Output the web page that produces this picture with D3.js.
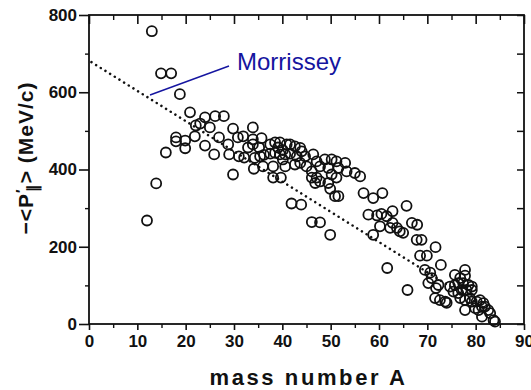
<!DOCTYPE html>
<html>
<head>
<meta charset="utf-8">
<script src="https://cdn.jsdelivr.net/npm/d3@7"></script>
<style>
  body { margin: 0; background: #fff; }
  svg { display: block; }
  text { font-family: "Liberation Sans", Arial, sans-serif; }
</style>
</head>
<body>
<svg id="chart" width="531" height="390"></svg>
<script>
// values
const massNumber = [
  12.0, 13.0, 13.9, 14.9, 15.9, 17.0, 18.0, 18.0, 18.8, 19.9, 19.9, 20.9, 21.9, 22.1,
  23.0, 24.0, 24.0, 25.0, 25.9, 26.1, 26.9, 27.9, 28.8, 29.0, 29.8, 29.8, 30.8, 31.0,
  31.9, 32.1, 32.9, 33.9, 33.9, 33.9, 34.1, 34.3, 35.2, 35.4, 35.7, 36.2, 36.0, 37.5,
  37.5, 38.5, 38.5, 38.1, 38.1, 39.5, 39.5, 39.1, 39.7, 40.1, 40.1, 40.6, 40.6, 40.9,
  41.6, 41.6, 41.9, 42.6, 42.6, 43.0, 43.7, 43.7, 43.9, 44.0, 44.7, 45.0, 46.1, 47.8,
  46.1, 46.1, 46.4, 46.8, 47.1, 47.1, 47.8, 47.8, 48.8, 49.5, 49.5, 49.9, 49.9, 50.2,
  50.2, 50.9, 51.2, 51.2, 51.6, 51.6, 53.0, 53.3, 55.0, 56.1, 56.8, 57.8, 58.8, 58.8,
  59.6, 60.5, 60.7, 60.2, 61.6, 61.7, 62.3, 62.8, 62.8, 63.7, 64.3, 65.0, 65.7, 65.9,
  66.8, 67.9, 67.8, 68.8, 68.5, 69.9, 69.5, 70.6, 70.9, 70.2, 71.7, 71.8, 72.3, 72.8,
  71.6, 72.6, 73.7, 74.0, 75.7, 76.8, 77.8, 77.8, 74.7, 75.7, 76.4, 77.4, 78.5, 79.2,
  75.4, 76.4, 77.1, 78.1, 79.2, 76.8, 77.8, 78.8, 77.8, 79.2, 80.2, 80.9, 81.6, 79.9,
  80.6, 81.3, 81.9, 82.6, 83.0, 81.3, 83.7, 84.0
]
const momentum = [
  268, 758, 364, 649, 444, 649, 483, 473, 595, 475, 455, 548, 486, 514,
  519, 535, 462, 509, 439, 538, 483, 538, 465, 439, 506, 387, 483, 434,
  486, 431, 457, 509, 478, 465, 402, 430, 457, 434, 481, 438, 408, 465,
  441, 470, 443, 408, 379, 470, 439, 457, 379, 450, 426, 439, 408, 465,
  441, 465, 312, 413, 460, 434, 417, 456, 309, 447, 434, 408, 264, 263,
  395, 379, 439, 365, 421, 379, 408, 369, 426, 404, 365, 350, 231, 426,
  387, 331, 421, 379, 404, 331, 417, 395, 391, 382, 339, 283, 326, 231,
  281, 285, 339, 253, 279, 145, 249, 292, 262, 249, 240, 236, 306, 88,
  262, 257, 218, 218, 177, 177, 140, 133, 119, 106, 199, 93, 101, 153,
  67, 62, 58, 55, 127, 119, 125, 140, 97, 101, 106, 106, 101, 97,
  84, 80, 88, 88, 88, 67, 62, 67, 36, 58, 58, 62, 54, 41,
  36, 45, 45, 36, 28, 19, 10, 6
]
// Morrissey systematics, dotted line end points
const morrisseyA = [0.5, 82]
const morrisseyP = [678, 40]

const xMajor = [0, 10, 20, 30, 40, 50, 60, 70, 80, 90]
const xMinor = [5, 15, 25, 35, 45, 55, 65, 75, 85]
const yMajor = [0, 200, 400, 600, 800]
const yMinor = [100, 300, 500, 700]

const svg = d3.select('#chart')
const frame = { left: 89, right: 524, top: 15, bottom: 324 }

const x = d3.scaleLinear().domain([0, 90]).range([frame.left, frame.right])
const y = d3.scaleLinear().domain([0, 800]).range([frame.bottom, frame.top])

const tickFont = g => g.selectAll('text')
  .attr('font-size', 17)
  .attr('font-weight', 'bold')
  .attr('fill', '#111')

const noDomain = g => g.select('.domain').remove()
const tickStroke = w => g => g.selectAll('line').attr('stroke', '#111').attr('stroke-width', w)

// bottom axis: ticks point out
svg.append('g')
  .attr('transform', `translate(0,${frame.bottom})`)
  .call(d3.axisBottom(x).tickValues(xMajor).tickSize(6).tickPadding(5).tickFormat(d3.format('d')))
  .call(noDomain).call(tickFont).call(tickStroke(1.6))
svg.append('g')
  .attr('transform', `translate(0,${frame.bottom})`)
  .call(d3.axisBottom(x).tickValues(xMinor).tickSize(4).tickFormat(''))
  .call(noDomain).call(tickStroke(1.4))

// top axis: ticks point in
svg.append('g')
  .attr('transform', `translate(0,${frame.top})`)
  .call(d3.axisBottom(x).tickValues(xMajor).tickSize(9).tickFormat(''))
  .call(noDomain).call(tickStroke(1.6))
svg.append('g')
  .attr('transform', `translate(0,${frame.top})`)
  .call(d3.axisBottom(x).tickValues(xMinor).tickSize(5).tickFormat(''))
  .call(noDomain).call(tickStroke(1.4))

// left axis: ticks point out
svg.append('g')
  .attr('transform', `translate(${frame.left},0)`)
  .call(d3.axisLeft(y).tickValues(yMajor).tickSize(10).tickPadding(2).tickFormat(d3.format('d')))
  .call(noDomain).call(tickFont).call(tickStroke(1.6))
svg.append('g')
  .attr('transform', `translate(${frame.left},0)`)
  .call(d3.axisLeft(y).tickValues(yMinor).tickSize(4).tickFormat(''))
  .call(noDomain).call(tickStroke(1.4))

// right axis: ticks point in
svg.append('g')
  .attr('transform', `translate(${frame.right},0)`)
  .call(d3.axisLeft(y).tickValues(yMajor.concat(yMinor)).tickSize(7).tickFormat(''))
  .call(noDomain).call(tickStroke(1.5))

// frame
svg.append('rect')
  .attr('x', frame.left)
  .attr('y', frame.top)
  .attr('width', frame.right - frame.left)
  .attr('height', frame.bottom - frame.top)
  .attr('fill', 'none')
  .attr('stroke', '#111')
  .attr('stroke-width', 1.8)

// dotted Morrissey line
svg.append('line')
  .attr('x1', x(morrisseyA[0]))
  .attr('y1', y(morrisseyP[0]))
  .attr('x2', x(morrisseyA[1]))
  .attr('y2', y(morrisseyP[1]))
  .attr('stroke', '#111')
  .attr('stroke-width', 2.5)
  .attr('stroke-linecap', 'round')
  .attr('stroke-dasharray', '0.1 5.4')

// open circles
svg.append('g')
  .selectAll('circle')
  .data(d3.zip(massNumber, momentum))
  .join('circle')
  .attr('cx', d => x(d[0]))
  .attr('cy', d => y(d[1]))
  .attr('r', 5)
  .attr('fill', 'none')
  .attr('stroke', '#111')
  .attr('stroke-width', 1.8)

// label with a pointer to the dotted line
svg.append('line')
  .attr('x1', 150)
  .attr('y1', 95)
  .attr('x2', 229)
  .attr('y2', 66)
  .attr('stroke', '#1515a0')
  .attr('stroke-width', 1.4)
svg.append('text')
  .attr('x', 237)
  .attr('y', 70)
  .attr('font-size', 24)
  .attr('fill', '#1515a0')
  .text('Morrissey')

// axis titles
svg.append('text')
  .attr('x', (frame.left + frame.right) / 2 + 2)
  .attr('y', 385)
  .attr('text-anchor', 'middle')
  .attr('font-size', 22)
  .attr('font-weight', 'bold')
  .attr('letter-spacing', 2.6)
  .attr('fill', '#111')
  .text('mass number A')

const yTitle = svg.append('text')
  .attr('transform', 'translate(33,158) rotate(-90)')
  .attr('text-anchor', 'middle')
  .attr('font-size', 21)
  .attr('font-weight', 'bold')
  .attr('letter-spacing', 1)
  .attr('fill', '#111')
yTitle.append('tspan').text('−<P')
yTitle.append('tspan').attr('font-size', 15).attr('dy', -7).text('′')
yTitle.append('tspan').attr('font-size', 15).attr('dx', -4).attr('dy', 12).text('∥')
yTitle.append('tspan').attr('dy', -5).text('>  (MeV/c)')
</script>
</body>
</html>
